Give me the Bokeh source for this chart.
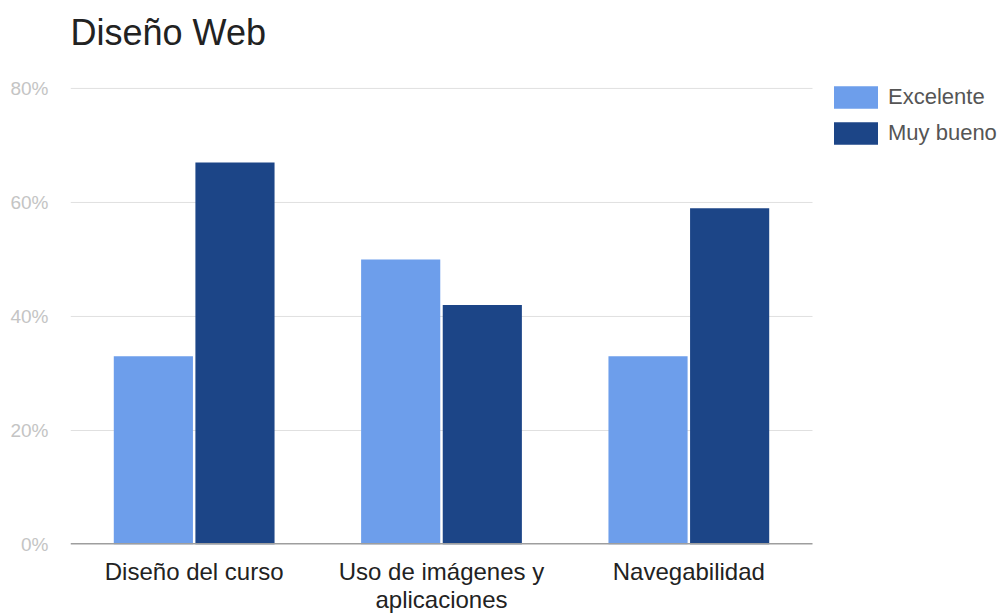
import numpy as np
from bokeh.plotting import figure
from bokeh.models import Range1d, NumeralTickFormatter, FixedTicker, Legend, LegendItem, ColumnDataSource
from bokeh.embed import file_html
from bokeh.resources import INLINE

categories = ["Diseño del curso", "Uso de imágenes y\naplicaciones", "Navegabilidad"]
excelente = [0.33, 0.50, 0.33]
muy_bueno = [0.67, 0.42, 0.59]
series_names = ["Excelente", "Muy bueno"]
y_ticks = [0.0, 0.2, 0.4, 0.6, 0.8]

FONT = "Liberation Sans"

xc = np.arange(len(categories)) + 0.5
src = ColumnDataSource(dict(x1=xc - 0.165, x2=xc + 0.165, exc=excelente, mb=muy_bueno))

n = len(categories)
y_top = y_ticks[-1] + 31 * y_ticks[-1] / 457  # headroom above the 80% line for the legend
# frame spans to the right edge; categories occupy [0, n] (the left 742 px)
p = figure(x_range=Range1d(0, n * 928 / 742), y_range=Range1d(0, y_top),
           width=998, height=615, output_backend="svg", toolbar_location=None,
           min_border_left=70, min_border_right=0, min_border_top=57, min_border_bottom=70)

p.title.text = "Diseño Web"
p.title.text_font = FONT
p.title.text_font_size = "36px"
p.title.text_font_style = "normal"
p.title.text_color = "#222222"

# horizontal grid lines over the category area only
p.segment(x0=0, x1=n, y0=y_ticks[1:], y1=y_ticks[1:], line_color="#e0e0e0", line_width=1)

r1 = p.vbar(x="x1", top="exc", width=0.32, source=src, fill_color="#6d9eeb", line_color=None)
r2 = p.vbar(x="x2", top="mb", width=0.32, source=src, fill_color="#1c4587", line_color=None)

# baseline
p.segment(x0=0, x1=n, y0=0, y1=0, line_color="#9e9e9e", line_width=3)

p.outline_line_color = None
p.xgrid.grid_line_color = None
p.ygrid.grid_line_color = None

p.yaxis.ticker = FixedTicker(ticks=y_ticks)
p.yaxis.formatter = NumeralTickFormatter(format="0%")
p.yaxis.axis_line_color = None
p.yaxis.major_tick_line_color = None
p.yaxis.minor_tick_line_color = None
p.yaxis.major_tick_out = 0
p.yaxis.minor_tick_out = 0
p.yaxis.major_label_standoff = 22
p.yaxis.major_label_text_font = FONT
p.yaxis.major_label_text_font_size = "19px"
p.yaxis.major_label_text_color = "#c4c4c4"

p.xaxis.ticker = FixedTicker(ticks=list(xc))
p.xaxis.major_label_overrides = {float(v): c for v, c in zip(xc, categories)}
p.xaxis.axis_line_color = None
p.xaxis.major_tick_line_color = None
p.xaxis.minor_tick_line_color = None
p.xaxis.major_tick_out = 0
p.xaxis.minor_tick_out = 0
p.xaxis.major_label_standoff = 13
p.xaxis.major_label_text_font = FONT
p.xaxis.major_label_text_font_size = "24px"
p.xaxis.major_label_text_line_height = 1.05
p.xaxis.major_label_text_color = "#222222"

legend = Legend(items=[LegendItem(label=series_names[0], renderers=[r1]),
                       LegendItem(label=series_names[1], renderers=[r2])],
                location=(758, 397), orientation="vertical")
legend.border_line_color = None
legend.background_fill_alpha = 0
legend.padding = 0
legend.margin = 0
legend.spacing = 8
legend.glyph_width = 55
legend.glyph_height = 28
legend.label_height = 28
legend.label_standoff = 5
legend.label_text_font = FONT
legend.label_text_font_size = "22px"
legend.label_text_color = "#555555"
p.add_layout(legend)

open("out.html", "w").write(file_html(p, INLINE))
